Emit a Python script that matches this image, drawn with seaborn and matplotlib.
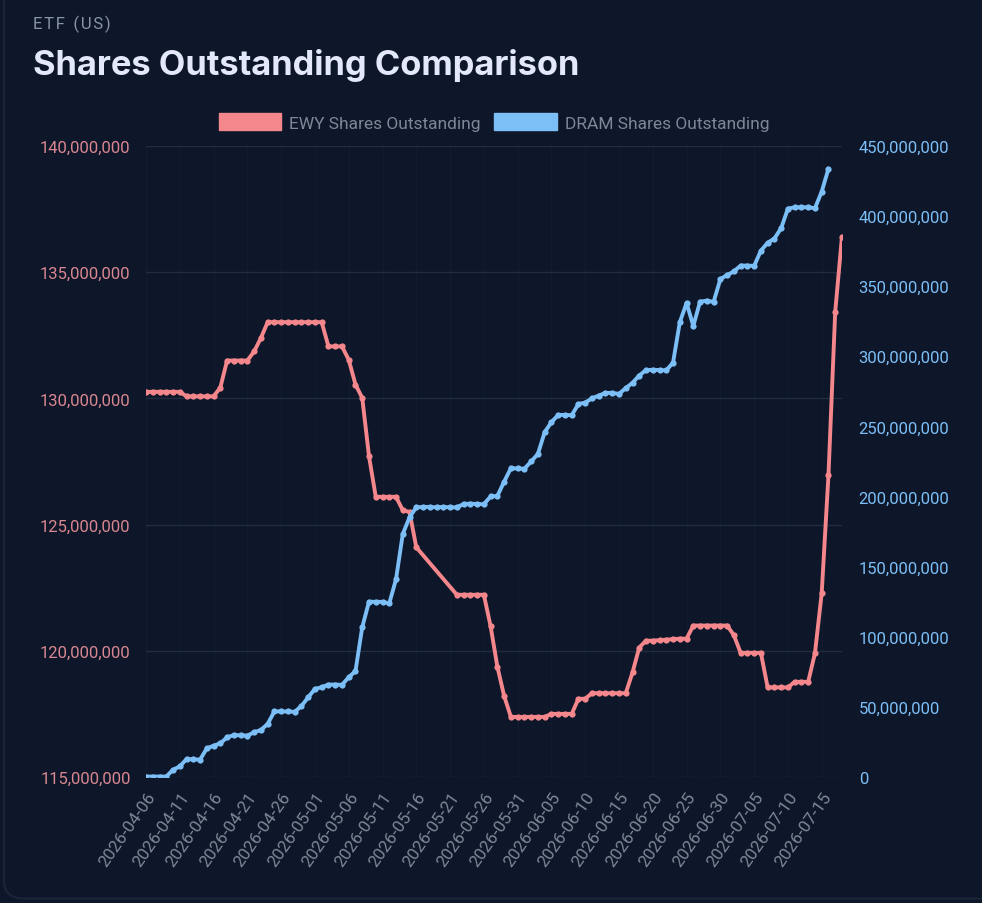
import numpy as np
import pandas as pd
import matplotlib
matplotlib.use('Agg')
import matplotlib.pyplot as plt
import matplotlib.dates as mdates
from matplotlib.patches import FancyBboxPatch, Patch
from matplotlib.ticker import FuncFormatter, MultipleLocator
import seaborn as sns

# ---------- dados (milhões de cotas, leitura do gráfico) ----------
datas = pd.date_range('2026-04-06', '2026-07-18', freq='D')

ewy_mi = [130.26, 130.26, 130.26, 130.26, 130.26, 130.26,
          130.08, 130.08, 130.08, 130.08, 130.08,
          130.43, 131.50, 131.50, 131.50, 131.50, 131.86, 132.39,
          133.02, 133.02, 133.02, 133.02, 133.02, 133.02, 133.02, 133.02, 133.02,
          132.06, 132.06, 132.06, 131.53, 130.55, 130.02, 127.71,
          126.10, 126.10, 126.10, 126.10, 125.57, 125.50, 124.10,
          None, None, None, None, None,
          122.22, 122.22, 122.22, 122.22, 122.22,
          120.97, 119.37, 118.21,
          117.38, 117.38, 117.38, 117.38, 117.38, 117.38,
          117.50, 117.50, 117.50, 117.50,
          118.10, 118.10,
          118.32, 118.32, 118.32, 118.32, 118.32, 118.32,
          119.14, 120.13,
          120.40, 120.40, 120.42, 120.44, 120.46, 120.48, 120.48,
          121.00, 121.00, 121.00, 121.00, 121.00, 121.00,
          120.62, 119.92, 119.92, 119.92, 119.92,
          118.55, 118.55, 118.55, 118.55,
          118.77, 118.77, 118.77,
          119.90, 122.28, 126.95, 133.43, 136.41]

dram_mi = [0.3, 0.3, 0.3, 0.3, 5.2, 7.5, 12.8, 12.6, 12.4, 20.4,
           22.3, 24.0, 28.3, 29.9, 29.7, 29.5, 31.9, 33.5, 37.8, 46.8,
           46.7, 46.7, 46.5, 50.6, 56.8, 62.8, 64.0, 65.9, 65.9, 65.7,
           71.1, 75.5, 106.8, 125.0, 124.9, 124.9, 123.8, 141.0, 173.3, 185.2,
           192.3, 192.6, 192.6, 192.3, 192.6, 192.3, 192.3, 194.7, 194.9, 194.7,
           194.5, 200.1, 200.4, 210.6, 220.2, 220.0, 219.8, 225.0, 230.4, 245.9,
           253.0, 258.2, 258.2, 258.0, 266.0, 267.0, 270.0, 272.0, 273.9, 273.9,
           273.2, 277.3, 281.1, 286.3, 290.2, 290.4, 290.2, 290.0, 295.5, 324.3,
           338.0, 321.7, 339.0, 339.7, 338.8, 355.0, 358.0, 360.5, 364.7, 364.7,
           364.5, 375.3, 381.0, 384.0, 391.4, 405.3, 406.3, 406.3, 406.3, 405.6,
           417.4, 433.7]

df_ewy = pd.DataFrame({'Data': datas[:len(ewy_mi)],
                       'Cotas': pd.to_numeric(pd.Series(ewy_mi)) * 1e6}).dropna()
df_dram = pd.DataFrame({'Data': datas[:len(dram_mi)],
                        'Cotas': np.array(dram_mi) * 1e6})

# ---------- estilo ----------
bg = '#0e1629'
cor_ewy = '#f4878c'
cor_dram = '#7cbff6'
cor_grid = '#222c40'

sns.set_theme(style='dark', rc={'axes.facecolor': bg, 'figure.facecolor': bg,
                                'axes.edgecolor': bg})
plt.rcParams['font.family'] = ['Roboto', 'DejaVu Sans']

fig = plt.figure(figsize=(9.82, 9.04), dpi=100)
fig.patches.append(FancyBboxPatch((0.004, 0.005), 1.2, 1.2, boxstyle='round,pad=0,rounding_size=0.02',
                                  transform=fig.transFigure, facecolor=bg,
                                  edgecolor='#1c2538', linewidth=1.5, zorder=-1))
ax = fig.add_axes([0.1487, 0.1394, 0.7087, 0.698])
ax2 = ax.twinx()

sns.lineplot(data=df_ewy, x='Data', y='Cotas', ax=ax, color=cor_ewy, linewidth=2.8,
             marker='o', markersize=4.5, markeredgewidth=0, zorder=3)
sns.lineplot(data=df_dram, x='Data', y='Cotas', ax=ax2, color=cor_dram, linewidth=2.8,
             marker='o', markersize=4.5, markeredgewidth=0, zorder=3)

ax.set_xlim(datas[0], datas[-1])
ax.set_ylim(115e6, 140e6)
ax2.set_ylim(0, 450e6)
ax.yaxis.set_major_locator(MultipleLocator(5e6))
ax2.yaxis.set_major_locator(MultipleLocator(50e6))
fmt = FuncFormatter(lambda v, p: f'{v:,.0f}')
ax.yaxis.set_major_formatter(fmt)
ax2.yaxis.set_major_formatter(fmt)

ax.set_xticks(datas[::5][:21])
ax.xaxis.set_major_formatter(mdates.DateFormatter('%Y-%m-%d'))

ax.set_xlabel('')
ax.set_ylabel('')
ax2.set_ylabel('')

ax.grid(True, axis='y', color=cor_grid, linewidth=1)
ax.grid(True, axis='x', color='#131c2f', linewidth=1)
ax2.grid(False)
for a in (ax, ax2):
    for s in a.spines.values():
        s.set_visible(False)
    a.set_facecolor('none')
ax.set_facecolor(bg)
ax.set_zorder(1)
ax2.set_zorder(2)
ax.patch.set_visible(True)

ax.tick_params(axis='y', colors='#d98790', labelsize=12, length=0, pad=11)
ax2.tick_params(axis='y', colors='#7cbff6', labelsize=12, length=0, pad=12)
ax.tick_params(axis='x', colors='#7d8797', labelsize=12.3, length=0, pad=9)
for lbl in ax.get_xticklabels():
    lbl.set_rotation(55)
    lbl.set_ha('right')
    lbl.set_rotation_mode('anchor')

# ---------- textos ----------
fig.text(0.0336, 0.973, 'E T F  ( U S )'.replace('  ', '\u2002').replace(' ', '\u200a'),
         color='#8a94a8', fontsize=12, va='center', ha='left')
fig.text(0.0336, 0.928, 'Shares Outstanding Comparison', color='#e3e9fb', fontsize=24.8,
         fontweight='bold', va='center', ha='left', family=['Inter', 'DejaVu Sans'])

handles = [Patch(facecolor=cor_ewy, edgecolor=cor_ewy, label='EWY Shares Outstanding'),
           Patch(facecolor=cor_dram, edgecolor=cor_dram, label='DRAM Shares Outstanding')]
fig.legend(handles=handles, loc='center', bbox_to_anchor=(0.503, 0.864), ncol=2,
           frameon=False, fontsize=12.5, labelcolor='#7d8797', handlelength=3.6,
           handleheight=1.15, handletextpad=0.45, columnspacing=0.8)

plt.savefig('out.png', dpi=100, facecolor=bg)
plt.close()
